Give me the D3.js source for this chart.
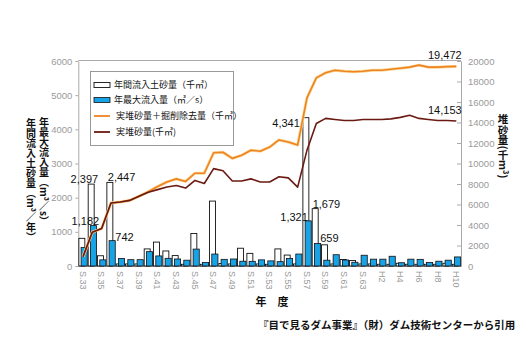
<!DOCTYPE html>
<html><head><meta charset="utf-8">
<script src="https://cdn.jsdelivr.net/npm/d3@7"></script>
<style>body{margin:0;background:#fff;} svg{display:block;}</style>
</head><body>
<svg id="c" width="530" height="338"></svg>
<script>
const categories = ["S.33","S.34","S.35","S.36","S.37","S.38","S.39","S.40","S.41","S.42","S.43","S.44","S.45","S.46","S.47","S.48","S.49","S.50","S.51","S.52","S.53","S.54","S.55","S.56","S.57","S.58","S.59","S.60","S.61","S.62","S.63","H1","H2","H3","H4","H5","H6","H7","H8","H9","H10"];
const tickLabels = ["S.33","S.35","S.37","S.39","S.41","S.43","S.45","S.47","S.49","S.51","S.53","S.55","S.57","S.59","S.61","S.63","H2","H4","H6","H8","H10"];
// 年間流入土砂量（千㎥）
const annualInflow = [810,2397,300,2447,60,60,60,500,700,440,305,50,950,50,1900,75,60,520,370,60,50,500,320,60,4341,1679,620,60,190,160,60,60,50,50,80,50,50,50,50,80,50];
// 年最大流入量（㎥/s）
const maxInflow = [545,1182,180,742,220,185,185,420,295,225,205,170,495,100,350,195,205,140,137,180,150,127,220,350,1321,659,170,330,176,110,315,200,200,285,95,200,195,100,140,170,265];
// 実堆砂量＋掘削除去量（千㎥）
const sedPlusRemoved = [900,3300,3650,6150,6250,6400,6800,7250,7750,8200,8500,8250,9050,9050,11050,11100,10500,10800,11300,11200,11600,12300,12100,11800,16400,18350,18850,19100,19000,18950,19000,19100,19100,19200,19300,19400,19600,19400,19400,19450,19472];
// 実堆砂量（千㎥）
const sediment = [900,3300,3650,6150,6250,6400,6800,7200,7450,7700,7850,7600,8350,8050,9500,9300,8300,8300,8500,8200,8200,8700,8600,7700,11300,13900,14400,14300,14200,14200,14300,14300,14300,14350,14500,14700,14400,14300,14200,14200,14153];
const leftTicks = [0,1000,2000,3000,4000,5000,6000];
const rightTicks = [0,2000,4000,6000,8000,10000,12000,14000,16000,18000,20000];
const annotations = [
  {cat:"S.34", series:"inflow", text:"2,397"},
  {cat:"S.36", series:"inflow", text:"2,447"},
  {cat:"S.34", series:"max", text:"1,182"},
  {cat:"S.36", series:"max", text:"742"},
  {cat:"S.57", series:"inflow", text:"4,341"},
  {cat:"S.57", series:"max", text:"1,321"},
  {cat:"S.58", series:"inflow", text:"1,679"},
  {cat:"S.58", series:"max", text:"659"},
  {cat:"H10", series:"plus", text:"19,472"},
  {cat:"H10", series:"sed", text:"14,153"}
];
const legendItems = ["年間流入土砂量（千㎥）","年最大流入量（㎥／s）","実堆砂量＋掘削除去量（千㎥）","実堆砂量(千㎥)"];

const svg = d3.select("#c");
svg.append("rect").attr("width",530).attr("height",338).attr("fill","#fff");
const L=78.3, R=461, T=61, B=266;
const x = d3.scaleBand().domain(categories).range([L,R]).paddingInner(0).paddingOuter(0);
const bw = x.bandwidth();
const yL = d3.scaleLinear().domain([0,6000]).range([B,T]);
const yR = d3.scaleLinear().domain([0,20000]).range([B,T]);
const axisCol = "#aaa", tickTxt = "#9a9a9a";
const numFont = "'Liberation Sans', Arial, sans-serif";
const jpFont = "'Noto Sans CJK JP', sans-serif";

// frame top
svg.append("line").attr("x1",L).attr("x2",R).attr("y1",T-0.5).attr("y2",T-0.5).attr("stroke",axisCol);

const gl = svg.append("g").attr("transform",`translate(${L},0)`)
  .call(d3.axisLeft(yL).tickValues(leftTicks).tickSize(3).tickSizeOuter(0).tickFormat(d3.format("d")));
const gr = svg.append("g").attr("transform",`translate(${R},0)`)
  .call(d3.axisRight(yR).tickValues(rightTicks).tickSize(-4).tickSizeOuter(0).tickPadding(7).tickFormat(d3.format("d")));
const gb = svg.append("g").attr("transform",`translate(0,${B})`)
  .call(d3.axisBottom(x).tickValues(tickLabels).tickSize(0).tickSizeOuter(0));
[gl,gr,gb].forEach(g=>{
  g.select(".domain").attr("stroke",axisCol);
  g.selectAll(".tick line").attr("stroke",axisCol);
  g.selectAll(".tick text").attr("fill",tickTxt).style("font-family",numFont).style("font-size","9.5px");
});
gb.selectAll(".tick text").attr("transform","rotate(90)").attr("text-anchor","start")
  .attr("x",5).attr("y",0).attr("dy","0.35em").style("font-size","9px");

// bars
svg.append("g").selectAll("rect").data(categories).join("rect")
  .attr("x",c=>x(c)+bw*0.06).attr("width",bw*0.64)
  .attr("y",(c,i)=>yL(annualInflow[i])).attr("height",(c,i)=>B-yL(annualInflow[i]))
  .attr("fill","#fff").attr("stroke","#111").attr("stroke-width",0.9);
svg.append("g").selectAll("rect").data(categories).join("rect")
  .attr("x",c=>x(c)+bw*0.3).attr("width",bw*0.66)
  .attr("y",(c,i)=>yL(maxInflow[i])).attr("height",(c,i)=>B-yL(maxInflow[i]))
  .attr("fill","#18a3e6").attr("stroke","#111").attr("stroke-width",0.8);

// lines
const line = d3.line().x((d,i)=>x(categories[i])+bw/2).y(d=>yR(d));
svg.append("path").datum(sedPlusRemoved).attr("d",line).attr("fill","none")
  .attr("stroke","#fbd79a").attr("stroke-width",3).attr("stroke-linejoin","round");
svg.append("path").datum(sedPlusRemoved).attr("d",line).attr("fill","none")
  .attr("stroke","#ee8420").attr("stroke-width",1.6).attr("stroke-linejoin","round");
svg.append("path").datum(sediment).attr("d",line).attr("fill","none")
  .attr("stroke","#6a1a12").attr("stroke-width",1.6).attr("stroke-linejoin","round");

// annotations
const annLayout = {
  "2,397":{a:"end",dx:10.5,dy:-1},
  "2,447":{a:"start",dx:1.5,dy:-1.5},
  "1,182":{a:"end",dx:11.5,dy:-0.5},
  "742":{a:"start",dx:9,dy:0.5},
  "4,341":{a:"end",dx:-2.5,dy:9.5},
  "1,321":{a:"end",dx:5.5,dy:0},
  "1,679":{a:"start",dx:1,dy:-0.5},
  "659":{a:"start",dx:8.5,dy:-1.5},
  "19,472":{a:"end",dx:10,dy:-7.5},
  "14,153":{a:"end",dx:10,dy:-7}
};
svg.append("g").selectAll("text").data(annotations).join("text")
  .attr("x",d=>x(d.cat)+annLayout[d.text].dx)
  .attr("y",d=>{
    const i = categories.indexOf(d.cat);
    let yy;
    if(d.series==="inflow") yy = yL(annualInflow[i]);
    else if(d.series==="max") yy = yL(maxInflow[i]);
    else if(d.series==="plus") yy = yR(sedPlusRemoved[i]);
    else yy = yR(sediment[i]);
    return yy + annLayout[d.text].dy;
  })
  .attr("text-anchor",d=>annLayout[d.text].a)
  .style("font-family",numFont).style("font-size","11px").attr("fill","#111")
  .text(d=>d.text);

// legend
const lg = svg.append("g");
lg.append("rect").attr("x",90.5).attr("y",71.5).attr("width",143).attr("height",74)
  .attr("fill","#fff").attr("stroke","#999").attr("stroke-width",1);
const ly = [85,100,116,132];
lg.append("rect").attr("x",94).attr("y",ly[0]-2.5).attr("width",16).attr("height",5).attr("fill","#fff").attr("stroke","#111").attr("stroke-width",0.9);
lg.append("rect").attr("x",94).attr("y",ly[1]-2.5).attr("width",16).attr("height",5).attr("fill","#18a3e6").attr("stroke","#111").attr("stroke-width",0.8);
lg.append("line").attr("x1",94).attr("x2",110).attr("y1",ly[2]).attr("y2",ly[2]).attr("stroke","#ee8420").attr("stroke-width",1.8);
lg.append("line").attr("x1",94).attr("x2",110).attr("y1",ly[3]).attr("y2",ly[3]).attr("stroke","#6a1a12").attr("stroke-width",1.8);
lg.selectAll("text.lt").data(legendItems).join("text").attr("class","lt")
  .attr("x",(d,i)=> i===0||i===1 ? 114 : 116).attr("y",(d,i)=>ly[i]).attr("dy","0.35em")
  .style("font-family",jpFont).style("font-size","9px").attr("fill","#111").text(d=>d);

// axis titles (vertical)
function vtext(txt,xx,yy,size){
  svg.append("text").attr("x",xx).attr("y",yy)
    .style("writing-mode","vertical-rl").style("font-family",jpFont)
    .style("font-size",size+"px").style("font-weight","bold").attr("fill","#111").text(txt);
}
vtext("年間流入土砂量（m³／年）",31,118,10);
vtext("年最大流入量（m³／s）",44,117,10);
vtext("堆砂量(千m³)",503,114,10.5);

svg.append("text").attr("x",272).attr("y",306).attr("text-anchor","middle")
  .style("font-family",jpFont).style("font-size","11px").style("font-weight","bold").attr("fill","#111")
  .text("年　度");
svg.append("text").attr("x",258).attr("y",329)
  .style("font-family",jpFont).style("font-size","10.5px").style("font-weight","bold").attr("fill","#111")
  .text("『目で見るダム事業』（財）ダム技術センターから引用");
</script>
</body></html>
